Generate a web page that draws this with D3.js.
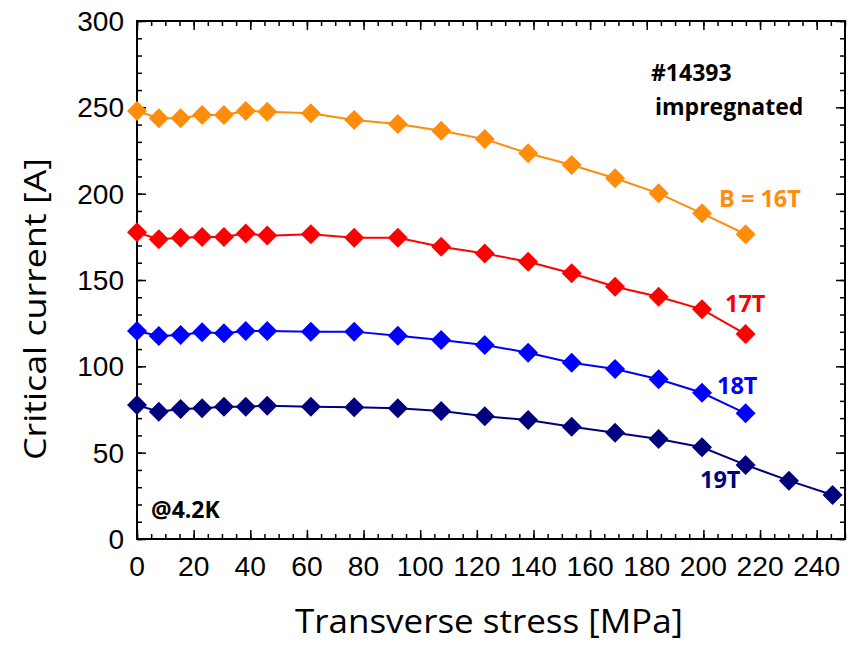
<!DOCTYPE html>
<html>
<head>
<meta charset="utf-8">
<script src="https://cdn.jsdelivr.net/npm/d3@7"></script>
<style>
html,body{margin:0;padding:0;background:#fff;}
svg{display:block;}
</style>
</head>
<body>
<svg id="chart" width="856" height="646"></svg>
<script>
// ---- data ----
const stress = [0, 7.7, 15.4, 23.0, 30.7, 38.4, 46.0, 61.4, 76.7, 92.1, 107.4, 122.8, 138.1, 153.5, 168.8, 184.2, 199.5, 214.9, 230.2, 245.6];
const ic16T = [247.9, 243.7, 243.7, 245.6, 245.6, 247.9, 247.5, 246.6, 242.7, 240.4, 236.4, 231.6, 223.4, 216.6, 208.9, 200.2, 188.6, 176.5];
const ic17T = [177.6, 173.6, 174.5, 174.9, 174.9, 177.0, 175.7, 176.5, 174.5, 174.5, 169.3, 165.3, 160.6, 153.9, 146.1, 140.3, 133.0, 118.7];
const ic18T = [120.5, 117.6, 118.1, 119.7, 119.1, 120.5, 120.5, 120.1, 120.1, 117.7, 115.2, 112.4, 107.9, 102.1, 98.5, 92.5, 84.7, 72.8];
const ic19T = [77.6, 73.7, 75.3, 75.7, 76.6, 76.6, 77.2, 76.6, 76.3, 75.7, 74.1, 71.1, 68.9, 65.0, 61.6, 57.9, 53.1, 42.9, 33.8, 25.5];
const seriesNames = ["B = 16T", "17T", "18T", "19T"];
const seriesColors = ["#FF8C0A", "#FF0000", "#0000FF", "#00007F"];
const xTicks = [0, 20, 40, 60, 80, 100, 120, 140, 160, 180, 200, 220, 240];
const yTicks = [0, 50, 100, 150, 200, 250, 300];
const xTitle = "Transverse stress [MPa]";
const yTitle = "Critical current [A]";
const notes = ["#14393", "impregnated", "@4.2K"];

(function () {
// ---- layout ----
const svg = d3.select("#chart");
const pL = 137, pR = 845, pT = 21, pB = 539;
const x = d3.scaleLinear().domain([0, 250]).range([pL, pR]);
const y = d3.scaleLinear().domain([0, 300]).range([pB, pT]);

const seriesVals = [ic16T, ic17T, ic18T, ic19T];

// ---- frame & ticks ----
const minorX = d3.range(0, 251, 5);
const minorY = d3.range(0, 301, 10);
const g = svg.append("g");

function axisInner(sel, axisGen) { sel.call(axisGen); sel.select(".domain").remove(); sel.selectAll("line").attr("stroke", "#000").attr("stroke-width", 1.5); }

g.append("g").attr("transform", `translate(0,${pB})`)
  .call(s => axisInner(s, d3.axisTop(x).tickValues(minorX).tickSize(5).tickFormat("")));
g.append("g").attr("transform", `translate(0,${pB})`)
  .call(s => axisInner(s, d3.axisTop(x).tickValues(xTicks).tickSize(9).tickFormat("")));
g.append("g").attr("transform", `translate(0,${pT})`)
  .call(s => axisInner(s, d3.axisBottom(x).tickValues(minorX).tickSize(5).tickFormat("")));
g.append("g").attr("transform", `translate(0,${pT})`)
  .call(s => axisInner(s, d3.axisBottom(x).tickValues(xTicks).tickSize(9).tickFormat("")));
g.append("g").attr("transform", `translate(${pL},0)`)
  .call(s => axisInner(s, d3.axisRight(y).tickValues(minorY).tickSize(5).tickFormat("")));
g.append("g").attr("transform", `translate(${pL},0)`)
  .call(s => axisInner(s, d3.axisRight(y).tickValues(yTicks).tickSize(9).tickFormat("")));
g.append("g").attr("transform", `translate(${pR},0)`)
  .call(s => axisInner(s, d3.axisLeft(y).tickValues(minorY).tickSize(5).tickFormat("")));
g.append("g").attr("transform", `translate(${pR},0)`)
  .call(s => axisInner(s, d3.axisLeft(y).tickValues(yTicks).tickSize(9).tickFormat("")));

svg.append("rect").attr("x", pL).attr("y", pT).attr("width", pR - pL).attr("height", pB - pT)
  .attr("fill", "none").attr("stroke", "#000").attr("stroke-width", 2);

// tick labels
svg.append("g").selectAll("text").data(xTicks).join("text")
  .attr("x", d => x(d)).attr("y", 576)
  .attr("text-anchor", "middle")
  .attr("font-family", "'Liberation Sans', Arial, sans-serif")
  .attr("font-size", 28)
  .attr("textLength", d => String(d).length * 15.7)
  .attr("lengthAdjust", "spacingAndGlyphs")
  .text(d => d);
svg.append("g").selectAll("text").data(yTicks).join("text")
  .attr("x", 124).attr("y", d => y(d)).attr("dy", "0.36em")
  .attr("text-anchor", "end")
  .attr("font-family", "'Liberation Sans', Arial, sans-serif")
  .attr("font-size", 28)
  .text(d => d);

// axis titles
svg.append("text").attr("x", 295).attr("y", 633)
  .attr("font-family", "'Open Sans', sans-serif").attr("font-size", 32)
  .attr("textLength", 388).attr("lengthAdjust", "spacingAndGlyphs")
  .text(xTitle);
svg.append("text").attr("transform", "translate(46,460) rotate(-90)")
  .attr("x", 0).attr("y", 0)
  .attr("font-family", "'Open Sans', sans-serif").attr("font-size", 31)
  .attr("textLength", 302).attr("lengthAdjust", "spacingAndGlyphs")
  .text(yTitle);

// ---- series ----
const line = d3.line().x(d => x(d[0])).y(d => y(d[1]));
const diamond = d => `M${x(d[0])},${y(d[1]) - 10}L${x(d[0]) + 10},${y(d[1])}L${x(d[0])},${y(d[1]) + 10}L${x(d[0]) - 10},${y(d[1])}Z`;
seriesVals.forEach((vals, i) => {
  const pts = vals.map((v, j) => [stress[j], v]);
  const sg = svg.append("g");
  sg.append("path").attr("d", line(pts)).attr("fill", "none")
    .attr("stroke", seriesColors[i]).attr("stroke-width", 2);
  sg.selectAll("path.m").data(pts).join("path").attr("class", "m")
    .attr("d", diamond).attr("fill", seriesColors[i]);
});

// ---- annotations ----
const boldFont = "'Open Sans', sans-serif";
const labelPos = [[719, 207], [725, 312], [717, 394], [700, 488]];
seriesNames.forEach((n, i) => {
  svg.append("text").attr("x", labelPos[i][0]).attr("y", labelPos[i][1])
    .attr("font-family", boldFont).attr("font-weight", "bold").attr("font-size", 23.5)
    .attr("fill", seriesColors[i]).text(n);
});
const notePos = [[651, 81], [655, 115], [151, 518]];
notes.forEach((n, i) => {
  svg.append("text").attr("x", notePos[i][0]).attr("y", notePos[i][1])
    .attr("font-family", boldFont).attr("font-weight", "bold").attr("font-size", 23)
    .attr("fill", "#000").text(n);
});
})();
</script>
</body>
</html>
